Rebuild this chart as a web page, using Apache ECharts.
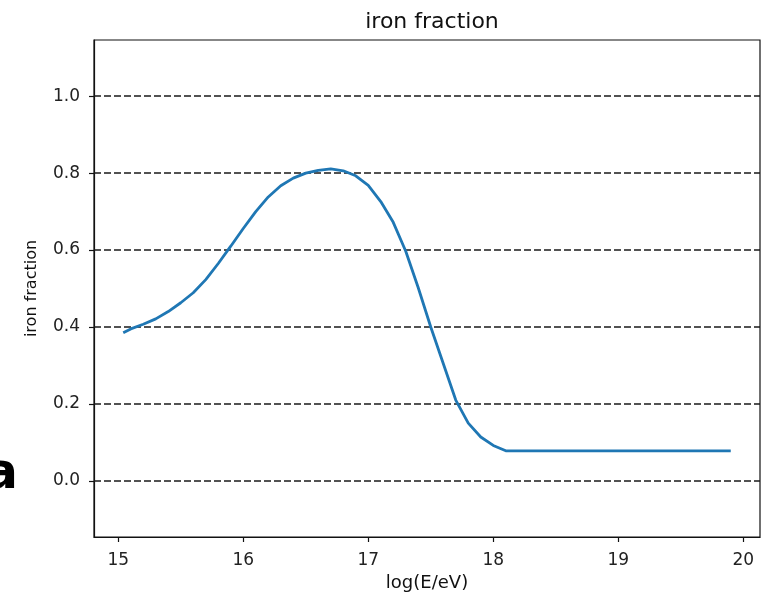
<!DOCTYPE html>
<html>
<head>
<meta charset="utf-8">
<script src="https://cdn.jsdelivr.net/npm/echarts@6/dist/echarts.min.js"></script>
<style>
html,body{margin:0;padding:0;background:#fff;}
#c{width:765px;height:594px;}
</style>
</head>
<body>
<div id="c"></div>
<script>
// Data
var logE = [15.04, 15.1, 15.2, 15.3, 15.4, 15.5, 15.6, 15.7, 15.8, 15.9,
            16.0, 16.1, 16.2, 16.3, 16.4, 16.5, 16.6, 16.7, 16.8, 16.9,
            17.0, 17.1, 17.2, 17.3, 17.4, 17.5, 17.6, 17.7, 17.8, 17.9,
            18.0, 18.1, 19.9];
var ironFraction = [0.385, 0.395, 0.407, 0.421, 0.440, 0.463, 0.489, 0.523, 0.565, 0.610,
                    0.656, 0.700, 0.738, 0.767, 0.787, 0.800, 0.807, 0.811, 0.806, 0.793,
                    0.768, 0.726, 0.672, 0.597, 0.502, 0.400, 0.305, 0.210, 0.150, 0.114,
                    0.092, 0.078, 0.078];
var xTicks = [15, 16, 17, 18, 19, 20];
var yTicks = [0.0, 0.2, 0.4, 0.6, 0.8, 1.0];
var titleText = 'iron fraction';
var xName = 'log(E/eV)';
var yName = 'iron fraction';
var panelLetter = 'a';

var chart = echarts.init(document.getElementById('c'), null, {renderer: 'canvas'});
var font = 'DejaVu Sans';
var pts = logE.map(function (x, i) { return [x, ironFraction[i]]; });

chart.setOption({
  animation: false,
  backgroundColor: '#fff',
  title: {
    text: titleText,
    left: 427, top: 6, textAlign: 'center',
    textStyle: {fontFamily: font, fontSize: 22, fontWeight: 'normal', color: '#111'}
  },
  grid: {
    left: 94, right: 5, top: 40, bottom: 57,
    containLabel: false, outerBoundsMode: 'none',
    show: true, borderColor: '#111', borderWidth: 1.2, backgroundColor: 'transparent'
  },
  xAxis: {
    type: 'value', min: 14.806, max: 20.134,
    name: xName, nameLocation: 'middle', nameGap: 37,
    nameTextStyle: {fontFamily: font, fontSize: 18, color: '#111'},
    axisLine: {show: true, onZero: false, lineStyle: {color: '#111', width: 1.2}},
    axisTick: {show: true, length: 5, inside: false, customValues: xTicks, lineStyle: {color: '#111', width: 1.2}},
    axisLabel: {customValues: xTicks, margin: 15, fontFamily: font, fontSize: 17, color: '#222',
      formatter: function (v) { return String(Math.round(v)); }},
    splitLine: {show: false}
  },
  yAxis: {
    type: 'value', min: -0.146, max: 1.146,
    name: yName, nameLocation: 'middle', nameGap: 54, nameRotate: 90,
    nameTextStyle: {fontFamily: font, fontSize: 16, color: '#111'},
    axisLine: {show: true, onZero: false, lineStyle: {color: '#111', width: 1.2}},
    axisTick: {show: true, length: 5, inside: false, customValues: yTicks, lineStyle: {color: '#111', width: 1.2}},
    axisLabel: {customValues: yTicks, margin: 14, fontFamily: font, fontSize: 17, color: '#222',
      formatter: function (v) { return v.toFixed(1); }},
    splitLine: {show: false}
  },
  series: [{
    type: 'line',
    data: pts,
    symbol: 'none',
    smooth: false,
    lineStyle: {color: '#1f77b4', width: 2.8},
    z: 3,
    markLine: {
      silent: true,
      symbol: 'none',
      label: {show: false},
      lineStyle: {color: '#1a1a1a', width: 1.6, type: [7, 3]},
      data: yTicks.map(function (v) { return {yAxis: v}; }),
      z: 2
    }
  }],
  graphic: [{
    type: 'text',
    x: 18, y: 500,
    style: {text: panelLetter, fontFamily: 'DejaVu Sans', fontWeight: 'bold', fontSize: 50,
            fill: '#000', align: 'right', verticalAlign: 'bottom'}
  }]
});
</script>
</body>
</html>
